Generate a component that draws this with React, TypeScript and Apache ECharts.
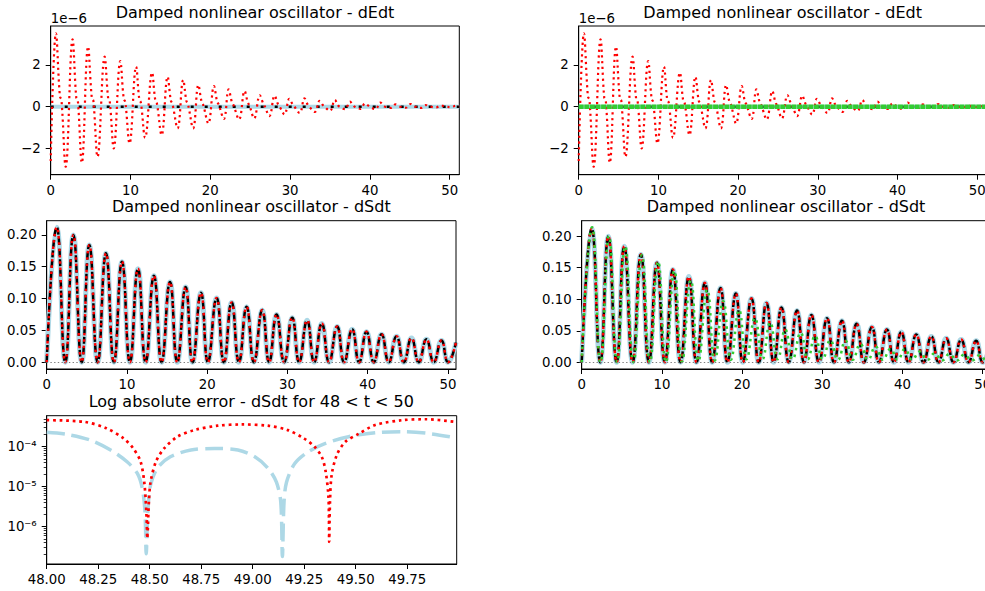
import React, { useEffect, useRef } from 'react';
import * as echarts from 'echarts';

// ---------- data ----------
// dEdt, red dotted curve (t, value in units of 1e-6)
const dEdtRed: [number, number][] = [
  [0, -2.6],
  [0.66, 3.52], [1.15, 0.5], [1.35, 0.32], [1.88, -2.88],
  [2.74, 3.23], [3.2, 0.45], [3.4, 0.3], [3.9, -2.69],
  [4.68, 2.88], [5.15, 0.42], [5.35, 0.28], [5.87, -2.4],
  [6.76, 2.4], [7.2, 0.4], [7.4, 0.25], [7.9, -2.0],
  [8.72, 2.19], [9.15, 0.38], [9.35, 0.22], [9.88, -1.76],
  [10.7, 1.92], [11.1, 0.35], [11.3, 0.2], [11.83, -1.49],
  [12.7, 1.63], [13.1, 0.32], [13.3, 0.18], [13.9, -1.36],
  [14.65, 1.44], [15.05, 0.3], [15.25, 0.15], [15.9, -1.04],
  [16.6, 1.28], [17.0, 0.28], [17.2, 0.12], [17.85, -1.04],
  [18.5, 1.04], [18.9, 0.25], [19.1, 0.1], [19.75, -0.8],
  [20.46, 0.99], [20.85, 0.25], [21.05, 0.1], [21.7, -0.59],
  [22.3, 0.83], [22.7, 0.22], [22.9, 0.08], [23.6, -0.61],
  [24.3, 0.75], [24.7, 0.2], [24.9, 0.06], [25.5, -0.56],
  [26.2, 0.55], [26.6, 0.18], [26.8, 0.04], [27.4, -0.45],
  [28.06, 0.53], [28.45, 0.15], [28.65, 0.03], [29.3, -0.37],
  [29.9, 0.38], [30.3, 0.12], [30.5, 0.02], [31.2, -0.3],
  [31.8, 0.4], [32.2, 0.1], [32.4, 0.0], [33.1, -0.25],
  [33.7, 0.28], [34.1, 0.08], [34.3, 0.0], [35.0, -0.2],
  [35.6, 0.32], [36.0, 0.07], [36.2, 0.0], [36.9, -0.12],
  [37.5, 0.24], [37.9, 0.06], [38.1, 0.0], [38.8, -0.1],
  [39.4, 0.16], [39.8, 0.05], [40.0, 0.0], [40.7, -0.12],
  [41.3, 0.2], [41.7, 0.04], [41.9, 0.0], [42.6, -0.06],
  [43.2, 0.11], [43.6, 0.03], [43.8, 0.0], [44.5, -0.05],
  [45.1, 0.13], [45.5, 0.03], [45.7, 0.0], [46.4, -0.06],
  [47.0, 0.08], [47.4, 0.02], [47.6, 0.0], [48.3, -0.03],
  [48.9, 0.06], [49.3, 0.02], [49.5, 0.0], [50.2, -0.02],
  [50.8, 0.05], [51.2, 0.02],
];
// dEdt reference / model curves lying on zero
const dEdtZeroT = [0, 51.2];
const dEdtZeroV = [0, 0];

// dSdt : troughs and peaks of the oscillation
const dSdtTroughT = [0, 2.32, 4.36, 6.35, 8.38, 10.37, 12.33, 14.32, 16.27, 18.18, 20.09, 22.08, 23.95, 25.82, 27.72, 29.59, 31.46, 33.33, 35.19, 37.06, 38.93, 40.76, 42.63, 44.5, 46.36, 48.23, 50.01];
const dSdtTroughV = [0, 0, 0, 0, 0, 0, 0, 0, 0, 0, 0, 0, 0, 0, 0, 0, 0, 0, 0, 0, 0, 0, 0, 0, 0, 0, 0];
const dSdtPeakT = [1.25, 3.32, 5.31, 7.38, 9.38, 11.37, 13.36, 15.36, 17.31, 19.22, 21.17, 23.04, 24.91, 26.85, 28.64, 30.59, 32.45, 34.28, 36.19, 38.06, 39.85, 41.72, 43.59, 45.45, 47.32, 49.19];
const dSdtPeakV = [0.212, 0.2, 0.184, 0.171, 0.158, 0.147, 0.136, 0.126, 0.118, 0.109, 0.101, 0.094, 0.087, 0.082, 0.075, 0.07, 0.066, 0.061, 0.056, 0.052, 0.048, 0.044, 0.041, 0.038, 0.036, 0.034];
const dSdtEnd: [number, number] = [51.0, 0.031];

// dSdt : green (second model, right panel)
const greenTroughT = [0, 2.35, 4.42, 6.45, 8.5, 10.5, 12.5, 14.55, 16.6, 18.6, 20.55, 22.55, 24.45, 26.3, 28.2, 30.05, 31.95, 33.8, 35.7, 37.55, 39.4, 41.2, 43.1, 44.95, 46.8, 48.65, 50.5];
const greenTroughV = [0, 0, 0, 0, 0, 0, 0.001, 0.002, 0.003, 0.004, 0.005, 0.005, 0.005, 0.005, 0.005, 0.005, 0.004, 0.004, 0.004, 0.004, 0.004, 0.004, 0.004, 0.003, 0.003, 0.003, 0.003];
const greenPeakT = [1.3, 3.4, 5.42, 7.5, 9.52, 11.55, 13.6, 15.65, 17.65, 19.62, 21.6, 23.5, 25.38, 27.3, 29.1, 31.0, 32.9, 34.75, 36.65, 38.5, 40.3, 42.15, 44.0, 45.85, 47.7, 49.6];
const greenPeakV = [0.214, 0.2, 0.184, 0.17, 0.16, 0.145, 0.13, 0.115, 0.097, 0.083, 0.07, 0.063, 0.052, 0.047, 0.042, 0.035, 0.034, 0.029, 0.025, 0.021, 0.021, 0.017, 0.014, 0.013, 0.012, 0.011];
const greenEnd: [number, number] = [51.0, 0.007];

// Log absolute error, 48 < t < 50
const errRedT = [48.0, 48.18, 48.29, 48.374, 48.42, 48.456, 48.475, 48.485, 48.488, 48.496, 48.504, 48.53, 48.57, 48.635, 48.716, 48.83, 48.944, 49.074, 49.17, 49.25, 49.3, 49.335, 49.354, 49.367, 49.37, 49.371, 49.375, 49.383, 49.408, 49.448, 49.514, 49.595, 49.725, 49.84, 49.98];
const errRed = [4.6e-4, 4.2e-4, 2.9e-4, 1.6e-4, 9.1e-5, 4.2e-5, 1.1e-5, 1.6e-6, 5.1e-7, 4.2e-6, 1.3e-5, 4.2e-5, 9.1e-5, 1.78e-4, 2.6e-4, 3.35e-4, 3.6e-4, 3.35e-4, 2.6e-4, 1.6e-4, 1.0e-4, 5.6e-5, 2.4e-5, 6.2e-6, 1.6e-6, 4.2e-7, 4.2e-6, 1.95e-5, 6.2e-5, 1.3e-4, 2.1e-4, 3.5e-4, 4.6e-4, 4.86e-4, 4.2e-4];
const errBlueT = [48.0, 48.098, 48.21, 48.31, 48.39, 48.44, 48.464, 48.477, 48.483, 48.491, 48.504, 48.537, 48.6, 48.7, 48.813, 48.928, 49.01, 49.074, 49.115, 49.136, 49.144, 49.152, 49.164, 49.204, 49.27, 49.35, 49.465, 49.595, 49.725, 49.855, 49.99];
const errBlue = [2.3e-4, 2.04e-4, 1.47e-4, 8.3e-5, 4.2e-5, 2.15e-5, 9.1e-6, 2.4e-6, 2.1e-7, 2.4e-6, 1.1e-5, 2.9e-5, 5.6e-5, 8.3e-5, 9.0e-5, 8.3e-5, 5.6e-5, 2.9e-5, 1.3e-5, 4.2e-6, 1.8e-7, 4.2e-6, 1.3e-5, 3.8e-5, 7.5e-5, 1.2e-4, 1.78e-4, 2.24e-4, 2.37e-4, 2.14e-4, 1.65e-4];

// tick labels
const timeTicks = [0, 10, 20, 30, 40, 50];
const errTimeTicks = [48, 48.25, 48.5, 48.75, 49, 49.25, 49.5, 49.75];
const dEdtTicks = [-2, 0, 2];
const dSdtTicks = [0, 0.05, 0.1, 0.15, 0.2];
const errTicks = [1e-6, 1e-5, 1e-4];

const TITLE_E = 'Damped nonlinear oscillator - dEdt';
const TITLE_S = 'Damped nonlinear oscillator - dSdt';
const TITLE_ERR = 'Log absolute error - dSdt for 48 < t < 50';

// ---------- helpers ----------
const FONT = 'DejaVu Sans';
const zip = (xs: number[], ys: number[]) => xs.map((x, i) => [x, ys[i]]);
function wave(tt: number[], tv: number[], pt: number[], pv: number[], end: [number, number]) {
  const pts: number[][] = [];
  for (let i = 0; i < tt.length; i++) {
    pts.push([tt[i], tv[i]]);
    if (i < pt.length) pts.push([pt[i], pv[i]]);
  }
  pts.push(end);
  return pts;
}
const minus = (v: number) => (v < 0 ? '\u2212' + String(Math.abs(v)) : String(v));
const SUP: Record<string, string> = { '-': '\u207B', '0': '\u2070', '1': '\u00B9', '2': '\u00B2', '3': '\u00B3', '4': '\u2074', '5': '\u2075', '6': '\u2076', '7': '\u2077', '8': '\u2078', '9': '\u2079' };
const pow10Label = (v: number) => '10' + String(Math.round(Math.log10(v))).split('').map((c) => SUP[c] || c).join('');

const labelStyle = { color: '#000', fontSize: 13.3, fontFamily: FONT };

function xAxis(gridIndex: number, min: number, max: number, ticks: number[], fmt: (v: number) => string) {
  return {
    type: 'value', gridIndex, min, max,
    axisLine: { show: true, onZero: false, lineStyle: { color: '#000', width: 1 } },
    axisTick: { show: true, inside: false, length: 5, lineStyle: { color: '#000', width: 1 }, customValues: ticks },
    axisLabel: { ...labelStyle, margin: 9, customValues: ticks, formatter: fmt, hideOverlap: false },
    splitLine: { show: false },
  };
}
function yAxis(gridIndex: number, min: number, max: number, ticks: number[], fmt: (v: number) => string, type = 'value') {
  return {
    type, gridIndex, min, max, position: 'left',
    axisLine: { show: true, onZero: false, lineStyle: { color: '#000', width: 1 } },
    axisTick: { show: true, inside: false, length: 5, lineStyle: { color: '#000', width: 1 }, customValues: ticks },
    axisLabel: { ...labelStyle, margin: 10, customValues: ticks, formatter: fmt, hideOverlap: false },
    splitLine: { show: false },
  };
}
function line(xi: number, data: number[][], color: string, width: number, dash: number[] | 'solid', smooth: number | boolean, extra: any = {}) {
  return {
    type: 'line', xAxisIndex: xi, yAxisIndex: xi, data, smooth,
    showSymbol: false, symbol: 'none', silent: true, clip: true,
    lineStyle: { color, width, type: dash, cap: 'butt' },
    ...extra,
  };
}
const zeroMark = {
  markLine: {
    silent: true, symbol: ['none', 'none'], label: { show: false },
    lineStyle: { color: '#808080', width: 1, type: [1.4, 2.3] },
    data: [{ yAxis: 0 }],
  },
};

const LB = '#ADD8E6';
const RED = '#FF0000';
const GREEN = '#32CD32';

export default function App() {
  const ref = useRef<HTMLDivElement>(null);
  useEffect(() => {
    if (!ref.current) return;
    const chart = echarts.init(ref.current, undefined, { renderer: 'svg' });

    const dSdt = wave(dSdtTroughT, dSdtTroughV, dSdtPeakT, dSdtPeakV, dSdtEnd);
    const green = wave(greenTroughT, greenTroughV, greenPeakT, greenPeakV, greenEnd);
    const zeroE = zip(dEdtZeroT, dEdtZeroV);

    const minor: number[] = [];
    for (let e = -8; e <= -3; e++) for (let m = 2; m <= 9; m++) {
      const v = m * Math.pow(10, e);
      if (v > 1.17e-7 && v < 5.96e-4) minor.push(v);
    }

    const grids = [
      { left: 50.7, top: 26, width: 408.6, height: 148.7 },
      { left: 578.7, top: 26, width: 408, height: 148.7 },
      { left: 46.7, top: 220.7, width: 409.3, height: 148.3 },
      { left: 581.7, top: 220.7, width: 409, height: 148.3 },
      { left: 46.7, top: 415.7, width: 410, height: 148.3 },
    ].map((g) => ({ ...g, show: true, borderColor: '#000', borderWidth: 1, backgroundColor: 'transparent', containLabel: false, outerBoundsMode: 'none' }));

    const tFmt = (v: number) => String(v);
    const option: any = {
      animation: false,
      backgroundColor: '#fff',
      grid: grids,
      xAxis: [
        xAxis(0, 0, 51.2, timeTicks, tFmt),
        xAxis(1, 0, 51.2, timeTicks, tFmt),
        xAxis(2, 0, 51.0, timeTicks, tFmt),
        xAxis(3, 0, 51.0, timeTicks, tFmt),
        xAxis(4, 48, 49.99, errTimeTicks, (v: number) => v.toFixed(2)),
      ],
      yAxis: [
        yAxis(0, -3.26, 3.87, dEdtTicks, minus),
        yAxis(1, -3.26, 3.87, dEdtTicks, minus),
        yAxis(2, -0.0106, 0.2223, dSdtTicks, (v: number) => v.toFixed(2)),
        yAxis(3, -0.0106, 0.2245, dSdtTicks, (v: number) => v.toFixed(2)),
        { ...yAxis(4, 1.17e-7, 5.96e-4, errTicks, pow10Label, 'log'), logBase: 10 },
        {
          type: 'log', logBase: 10, gridIndex: 4, min: 1.17e-7, max: 5.96e-4, position: 'left', offset: 0,
          axisLine: { show: false },
          axisTick: { show: true, length: 3, lineStyle: { color: '#000', width: 0.8 }, customValues: minor },
          axisLabel: { show: false },
          splitLine: { show: false },
        },
      ],
      series: [
        // top-left dEdt
        line(0, zeroE, LB, 4, 'solid', false),
        line(0, zeroE, '#000', 2.5, [3, 11], false),
        line(0, dEdtRed, RED, 2.2, [2.2, 3.6], 0.4),
        // top-right dEdt
        line(1, zeroE, LB, 4, 'solid', false),
        line(1, zeroE, '#000', 2.5, [3, 11], false),
        line(1, dEdtRed, RED, 2.2, [2.2, 3.6], 0.4),
        line(1, zeroE, GREEN, 4.5, [5, 0.6], false),
        // mid-left dSdt
        line(2, dSdt, LB, 5, 'solid', 0.5, zeroMark),
        line(2, dSdt, '#000', 2.5, [7, 3.5], 0.5),
        line(2, dSdt, RED, 2.5, [2.5, 3.8], 0.5),
        // mid-right dSdt
        line(3, dSdt, LB, 5, 'solid', 0.5, zeroMark),
        line(3, dSdt, '#000', 2.5, [7, 3.5], 0.5),
        line(3, dSdt, RED, 2.5, [2.5, 3.8], 0.5),
        line(3, green, GREEN, 2.5, [2.5, 4.2], 0.5),
        // bottom log error
        line(4, zip(errBlueT, errBlue), LB, 3.5, [18, 7], 0.3),
        line(4, zip(errRedT, errRed), RED, 2.7, [2.7, 3.8], 0.3),
      ],
      graphic: [
        { type: 'text', x: 255, y: 4, style: { text: TITLE_E, fontSize: 16, fontFamily: FONT, fill: '#000', textAlign: 'center', textVerticalAlign: 'top' } },
        { type: 'text', x: 782.7, y: 4, style: { text: TITLE_E, fontSize: 16, fontFamily: FONT, fill: '#000', textAlign: 'center', textVerticalAlign: 'top' } },
        { type: 'text', x: 251.3, y: 198.1, style: { text: TITLE_S, fontSize: 16, fontFamily: FONT, fill: '#000', textAlign: 'center', textVerticalAlign: 'top' } },
        { type: 'text', x: 786, y: 198.1, style: { text: TITLE_S, fontSize: 16, fontFamily: FONT, fill: '#000', textAlign: 'center', textVerticalAlign: 'top' } },
        { type: 'text', x: 251.3, y: 393.1, style: { text: TITLE_ERR, fontSize: 16, fontFamily: FONT, fill: '#000', textAlign: 'center', textVerticalAlign: 'top' } },
        { type: 'text', x: 50.7, y: 11.7, style: { text: '1e\u22126', fontSize: 13.3, fontFamily: FONT, fill: '#000', textAlign: 'left', textVerticalAlign: 'top' } },
        { type: 'text', x: 578.7, y: 11.7, style: { text: '1e\u22126', fontSize: 13.3, fontFamily: FONT, fill: '#000', textAlign: 'left', textVerticalAlign: 'top' } },
      ],
    };
    chart.setOption(option);
    return () => chart.dispose();
  }, []);
  return <div ref={ref} style={{ position: 'absolute', left: 0, top: 0, width: 985, height: 591 }} />;
}
